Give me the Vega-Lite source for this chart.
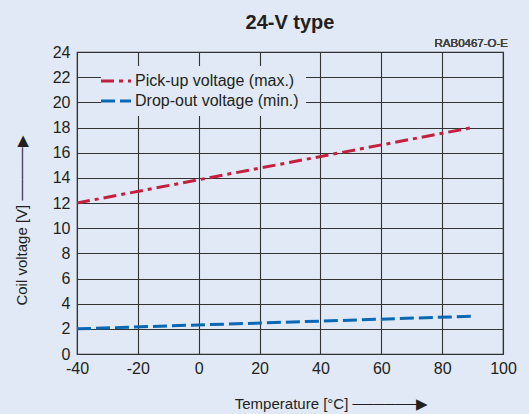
{
  "$schema": "https://vega.github.io/schema/vega-lite/v6.json",
  "width": 426,
  "height": 302,
  "autosize": {"type": "none"},
  "padding": {"left": 77, "top": 52, "right": 26, "bottom": 60},
  "background": "#e0e9f5",
  "title": {"text": "24-V type", "fontSize": 20, "fontWeight": "bold", "font": "Liberation Sans", "color": "#231f20", "anchor": "middle", "frame": "group", "offset": 5},
  "config": {
    "font": "Liberation Sans",
    "view": {"stroke": "#333333", "strokeWidth": 1.2, "fill": null},
    "axis": {"labelFont": "Liberation Sans", "titleFont": "Liberation Sans", "labelColor": "#231f20", "titleColor": "#231f20", "labelFontSize": 16, "titleFontSize": 15, "titleFontWeight": "normal", "gridColor": "#333333", "gridOpacity": 1, "gridWidth": 1.1, "domain": false, "ticks": false, "labelFlush": false, "labelBound": false}
  },
  "data": {"values": [
    {"t": -40, "v": 12, "s": "Pick-up voltage (max.)"},
    {"t": 90, "v": 18, "s": "Pick-up voltage (max.)"},
    {"t": -40, "v": 2, "s": "Drop-out voltage (min.)"},
    {"t": 90, "v": 3, "s": "Drop-out voltage (min.)"}
  ]},
  "layer": [
    {
      "mark": {"type": "line", "strokeWidth": 3, "strokeCap": "butt", "clip": true},
      "encoding": {
        "x": {"field": "t", "type": "quantitative", "scale": {"domain": [-40, 100], "nice": false, "zero": false},
          "axis": {"values": [-40, -20, 0, 20, 40, 60, 80, 100], "labelPadding": 6, "labelExpr": "'' + datum.value", "title": "Temperature [°C] ──────▶", "titleX": 254, "titleY": 49, "titleAlign": "center", "titleBaseline": "middle"}},
        "y": {"field": "v", "type": "quantitative", "scale": {"domain": [0, 24], "nice": false},
          "axis": {"values": [0, 2, 4, 6, 8, 10, 12, 14, 16, 18, 20, 22, 24], "tickCount": 13, "labelOverlap": false, "labelPadding": 7, "title": "Coil voltage [V] ─────▶", "titleX": -56, "titleY": 168, "titleAngle": -90, "titleAlign": "center", "titleBaseline": "middle"}},
        "color": {"field": "s", "type": "nominal", "scale": {"domain": ["Pick-up voltage (max.)", "Drop-out voltage (min.)"], "range": ["#c41f3e", "#0868b5"]},
          "legend": {"title": null, "orient": "none", "legendX": 24, "legendY": 14, "fillColor": "#e0e9f5", "padding": 7, "symbolType": "M-3,0H3", "symbolSize": 100, "symbolStrokeWidth": 3, "labelFontSize": 16, "labelColor": "#231f20", "labelFont": "Liberation Sans", "labelOffset": 11, "labelLimit": 300, "rowPadding": 4}},
        "strokeDash": {"field": "s", "type": "nominal", "scale": {"domain": ["Pick-up voltage (max.)", "Drop-out voltage (min.)"], "range": [[13, 5, 4, 5], [14, 5]]},
          "legend": {"title": null, "orient": "none", "legendX": 24, "legendY": 14, "fillColor": "#e0e9f5", "padding": 7, "symbolType": "M-3,0H3", "symbolSize": 100, "symbolStrokeWidth": 3, "labelFontSize": 16, "labelColor": "#231f20", "labelFont": "Liberation Sans", "labelOffset": 11, "labelLimit": 300, "rowPadding": 4}}
      }
    },
    {
      "mark": {"type": "text", "text": "RAB0467-O-E", "align": "right", "baseline": "bottom", "dx": 5, "dy": -3, "fontSize": 11.5, "fontWeight": "normal", "color": "#444444", "font": "Liberation Sans"},
      "encoding": {"x": {"datum": 100, "type": "quantitative"}, "y": {"datum": 24, "type": "quantitative"}}
    }
  ]
}
